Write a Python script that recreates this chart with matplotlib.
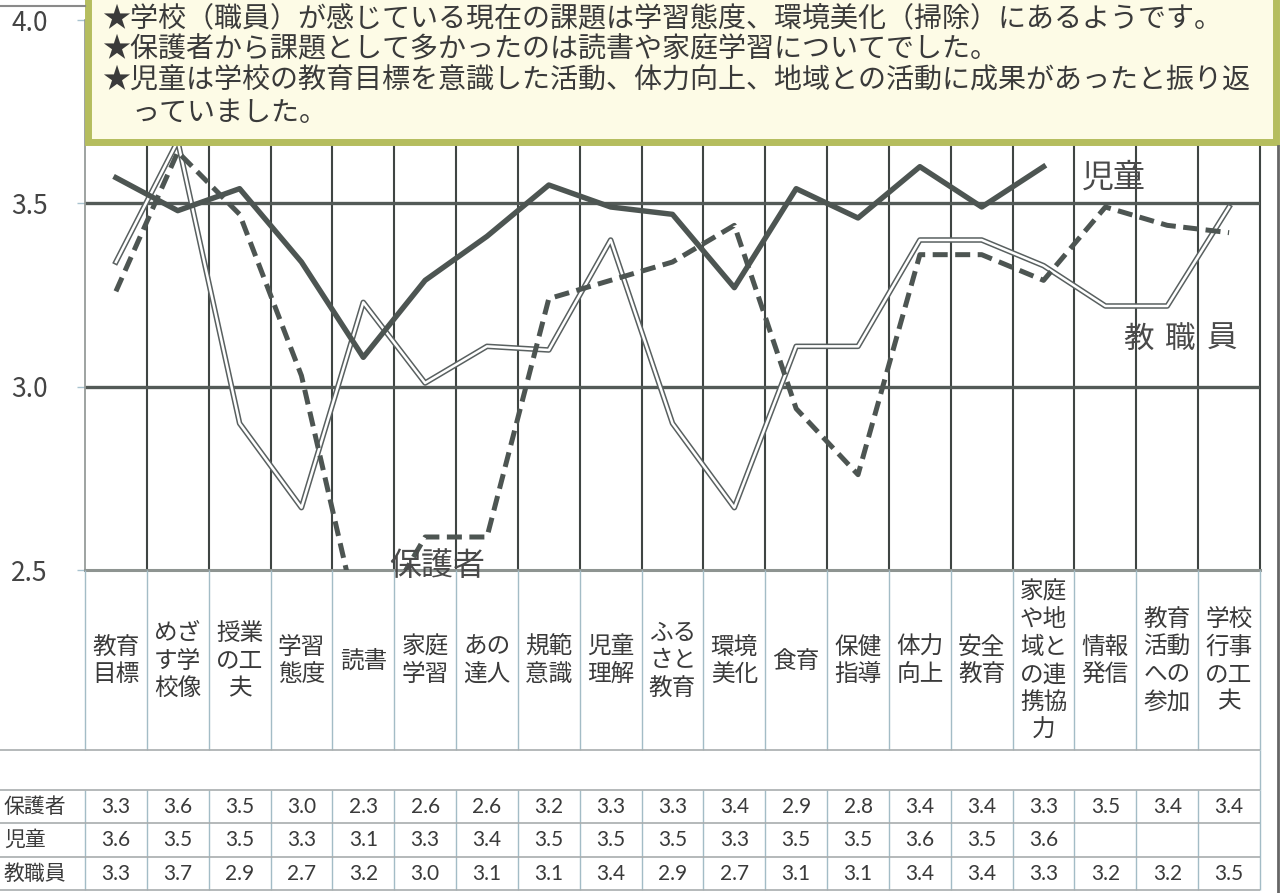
import numpy as np
import matplotlib
matplotlib.use('Agg')
import matplotlib.pyplot as plt
from matplotlib.patches import Rectangle
from matplotlib.transforms import blended_transform_factory

plt.rcParams['font.family'] = ['Noto Sans CJK JP', 'DejaVu Sans']

# categories (cell labels are stacked two characters per line)
categories = ['教育\n目標', 'めざ\nす学\n校像', '授業\nの工\n夫', '学習\n態度', '読書',
              '家庭\n学習', 'あの\n達人', '規範\n意識', '児童\n理解', 'ふる\nさと\n教育',
              '環境\n美化', '食育', '保健\n指導', '体力\n向上', '安全\n教育',
              '家庭\nや地\n域と\nの連\n携協\n力', '情報\n発信', '教育\n活動\nへの\n参加',
              '学校\n行事\nの工\n夫']

# values
hogosha = [3.26, 3.64, 3.47, 3.03, 2.30, 2.59, 2.59, 3.24, 3.29, 3.34,
           3.44, 2.94, 2.76, 3.36, 3.36, 3.29, 3.49, 3.44, 3.42]
jido = [3.57, 3.48, 3.54, 3.34, 3.08, 3.29, 3.41, 3.55, 3.49, 3.47,
        3.27, 3.54, 3.46, 3.60, 3.49, 3.60]
kyoshokuin = [3.34, 3.67, 2.90, 2.67, 3.23, 3.01, 3.11, 3.10, 3.40, 2.90,
              2.67, 3.11, 3.11, 3.40, 3.40, 3.33, 3.22, 3.22, 3.49]

# printed table under the chart
row_names = ['保護者', '児童', '教職員']
hogosha_tbl = [3.3, 3.6, 3.5, 3.0, 2.3, 2.6, 2.6, 3.2, 3.3, 3.3, 3.4, 2.9, 2.8, 3.4, 3.4, 3.3, 3.5, 3.4, 3.4]
jido_tbl = [3.6, 3.5, 3.5, 3.3, 3.1, 3.3, 3.4, 3.5, 3.5, 3.5, 3.3, 3.5, 3.5, 3.6, 3.5, 3.6, None, None, None]
kyoshokuin_tbl = [3.3, 3.7, 2.9, 2.7, 3.2, 3.0, 3.1, 3.1, 3.4, 2.9, 2.7, 3.1, 3.1, 3.4, 3.4, 3.3, 3.2, 3.2, 3.5]

yticks = [2.5, 3.0, 3.5, 4.0]

notes = ['★学校（職員）が感じている現在の課題は学習態度、環境美化（掃除）にあるようです。',
         '★保護者から課題として多かったのは読書や家庭学習についてでした。',
         '★児童は学校の教育目標を意識した活動、体力向上、地域との活動に成果があったと振り返',
         'っていました。']

W, H = 1282, 893
dark = '#4d5552'
grid_dark = '#3f4543'
cell_line = '#a3bcc6'
text_col = '#3a3a3a'

fig = plt.figure(figsize=(W / 100, H / 100), dpi=100)
fig.patch.set_facecolor('white')

# main plot area
ax = fig.add_axes([85 / W, 1 - 570 / H, (1260 - 85) / W, 550 / H])
n = len(categories)
ax.set_xlim(0, n)
ax.set_ylim(2.5, 4.0)
ax.set_xticks([])
ax.set_yticks(yticks)
ax.set_yticklabels([f'{v:.1f}' for v in yticks])
ax.tick_params(axis='y', length=6, width=1, color='#a9c3cf', pad=21,
               labelsize=19, labelcolor='#444444')
for s in ['top', 'right']:
    ax.spines[s].set_visible(False)
ax.spines['left'].set_color('#8e9491')
ax.spines['left'].set_linewidth(1.2)
ax.spines['bottom'].set_color('#8e9491')
ax.spines['bottom'].set_linewidth(2.2)

ax.vlines(np.arange(1, n + 1), 2.5, 4.0, color=grid_dark, lw=1.5, clip_on=False, zorder=1)
ax.hlines([3.0, 3.5], 0, n, color='#535a57', lw=2.4, zorder=1)

x_h = np.arange(len(hogosha)) + 0.5
x_j = np.arange(len(jido)) + 0.5
x_k = np.arange(len(kyoshokuin)) + 0.5

ax.plot(x_k, kyoshokuin, color='#596060', lw=4.0, zorder=2)
ax.plot(x_k, kyoshokuin, color='white', lw=1.8, zorder=2)
ax.plot(x_j, jido, color=dark, lw=3.9, zorder=3)
ax.plot(x_h, hogosha, color=dark, lw=3.6, dashes=(3, 1.5), zorder=4)

# overlay in pixel coordinates for the note box and the table
ov = fig.add_axes([0, 0, 1, 1], zorder=3)
ov.set_xlim(0, W)
ov.set_ylim(H, 0)
ov.axis('off')
bt = blended_transform_factory(ax.transData, ov.transData)

# series names written inside the plot
ov.text(1114, 178, '児童', fontsize=23, color='#4a4a4a', ha='center', va='center')
for cx, ch in zip([1139, 1180, 1222], '教職員'):
    ov.text(cx, 339, ch, fontsize=22, color='#4a4a4a', ha='center', va='center')
ov.text(437, 566, '保護者', fontsize=23, color='#4a4a4a', ha='center', va='center')

# note box
ov.add_patch(Rectangle((88, -20), 1276 - 88, 142 + 20, facecolor='#fdfbe6',
                       edgecolor='#b5bd5e', lw=5))
ov.text(103, 18, notes[0], fontsize=20.2, color=text_col, va='center', ha='left')
ov.text(103, 49, notes[1], fontsize=20.2, color=text_col, va='center', ha='left')
ov.text(103, 81, notes[2], fontsize=20.2, color=text_col, va='center', ha='left')
ov.text(131, 113, notes[3], fontsize=20.2, color=text_col, va='center', ha='left')

# frame pieces
ov.plot([0, 85], [6, 6], color='#8a8a8a', lw=1.5)
ov.plot([1278, 1278], [146, H], color='#666666', lw=2)

# category cells
ov.vlines(np.arange(n + 1), 570, 750, transform=bt, color=cell_line, lw=1)
ov.hlines(750, 0, 1260, color='#a8adae', lw=1.2)
for i, lab in enumerate(categories):
    ov.text(i + 0.5, 661, lab, transform=bt, ha='center', va='center',
            fontsize=17, linespacing=1.25, color=text_col)

# data table
ov.vlines([n], 750, 790, transform=bt, color=cell_line, lw=1)
ov.vlines(np.arange(n + 1), 790, 890, transform=bt, color=cell_line, lw=1)
ov.hlines([790, 823, 857, 890], 0, 1260, color='#a8adae', lw=1.2)
row_y = [807, 840, 874]
for name, vals, y in zip(row_names, [hogosha_tbl, jido_tbl, kyoshokuin_tbl], row_y):
    ov.text(4, y, name, fontsize=15, color=text_col, ha='left', va='center')
    for i, v in enumerate(vals):
        if v is not None:
            ov.text(i + 0.5, y, f'{v:.1f}', transform=bt, ha='center', va='center',
                    fontsize=15, color=text_col, family='Lato')

fig.savefig('out.png', dpi=100, facecolor='white')
